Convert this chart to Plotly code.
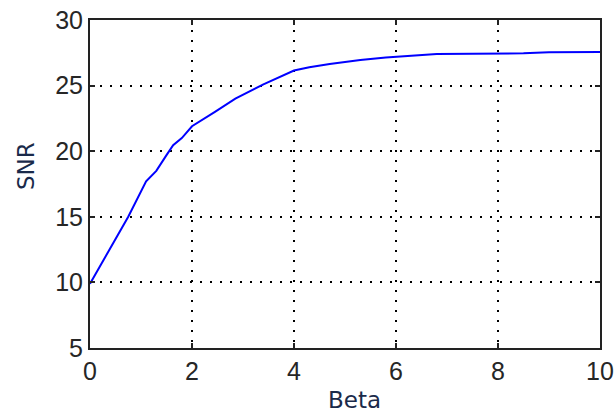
import plotly.graph_objects as go

beta = [0, 0.75, 1.1, 1.3, 1.5, 1.63, 1.8, 2.0, 2.45, 2.85, 3.4, 4.0, 4.3, 4.7,
        5.3, 5.8, 6.3, 6.8, 7.5, 8.5, 9.0, 10]
snr = [9.9, 15.0, 17.7, 18.5, 19.7, 20.45, 21.0, 21.9, 23.0, 24.0, 25.1, 26.15,
       26.4, 26.65, 26.95, 27.15, 27.28, 27.4, 27.43, 27.46, 27.55, 27.56]

x_ticks = [0, 2, 4, 6, 8, 10]
y_ticks = [5, 10, 15, 20, 25, 30]

L, R, T, B = 90, 14, 20, 67
W, H = 614, 415
pw, ph = W - L - R, H - T - B

fig = go.Figure()
fig.add_trace(go.Scatter(x=beta, y=snr, mode="lines",
                         line=dict(color="#0000FF", width=2), showlegend=False))

axis_common = dict(
    showline=True, linecolor="#222222", linewidth=2, mirror="allticks",
    ticks="inside", ticklen=5, tickwidth=1.5, tickcolor="#222222",
    showgrid=True, gridcolor="#000000", gridwidth=1.5, griddash="2px,8px",
    zeroline=False, automargin=False,
    tickfont=dict(family="Liberation Sans", size=25, color="#262626"),
)

fig.update_xaxes(range=[0, 10], tickvals=x_ticks, **axis_common)
fig.update_yaxes(range=[5, 30], tickvals=y_ticks, **axis_common)

fig.add_annotation(text="SNR", textangle=-90, xref="paper", yref="paper",
                   x=(26 - L) / pw, y=(H - B - 166) / ph, showarrow=False,
                   xanchor="center", yanchor="middle",
                   font=dict(family="DejaVu Sans", size=23, color="#1a2a4a"))
fig.add_annotation(text="Beta", xref="paper", yref="paper",
                   x=(354 - L) / pw, y=(H - B - 400) / ph, showarrow=False,
                   xanchor="center", yanchor="middle",
                   font=dict(family="DejaVu Sans", size=23, color="#1a2a4a"))

fig.update_layout(width=W, height=H, margin=dict(l=L, r=R, t=T, b=B),
                  plot_bgcolor="white", paper_bgcolor="white")

fig.write_html("out.html", config={"displayModeBar": False},
               post_script="document.body.style.margin='0';"
                           "document.body.style.overflow='hidden';")
